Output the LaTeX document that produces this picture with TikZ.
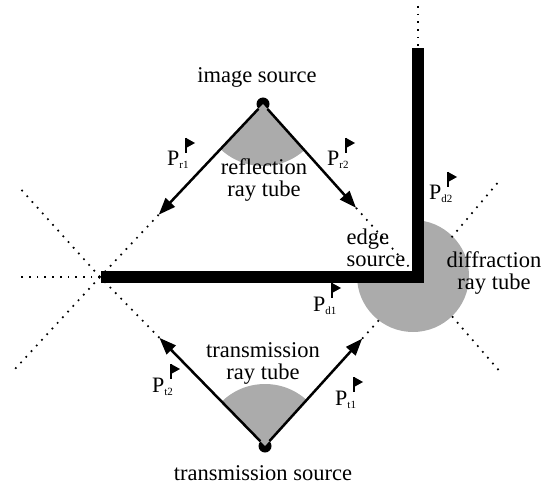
\documentclass[tikz,border=0pt]{standalone}
\usepackage{fontspec}
\setmainfont{Liberation Serif}
\usetikzlibrary{arrows.meta,calc}
\newcommand\psub[1]{P\raisebox{-3pt}{\fontsize{11}{11}\selectfont #1}}
\newcommand\pflag[1]{%
  \fill ($(#1.base west)+(19,-28)$) -- ++(9,5) -- ++(-9,5) -- cycle;
  \draw[line width=1.3pt] ($(#1.base west)+(19,-28)$) -- ++(0,15);}
\begin{document}
\begin{tikzpicture}[x=1pt,y=-1pt,
  wall/.style={line width=11.5pt, line join=miter},
  ray/.style={line width=2.5pt, -{Triangle[length=17pt,width=12.5pt]}},
  dots/.style={line width=1.7pt, dash pattern=on 1.7pt off 6pt},
  src/.style={circle, fill, inner sep=0pt, minimum size=13pt},
  lbl/.style={font=\fontsize{22.5}{22}\selectfont, inner sep=0pt, align=center},
  plbl/.style={font=\fontsize{22}{22}\selectfont, inner sep=0pt, anchor=base west},
  tube/.style={fill=black!33}]
\useasboundingbox (0,0) rectangle (553,486);

% key points
\coordinate (C) at (100,277);
\coordinate (E) at (418,277);
\node[src] (I) at (263,104) {};
\node[src] (T) at (265,446) {};
\coordinate (r1) at ($(I.center)!0.64!(C)$);
\coordinate (r2) at ($(I.center)!0.60!(E)$);
\coordinate (t2) at ($(T.center)!0.64!(C)$);
\coordinate (t1) at ($(T.center)!0.635!(E)$);
\coordinate (ul) at (18,186);
\coordinate (ll) at (15,369);
\coordinate (hl) at (20,277);
\coordinate (ur) at (500,180);
\coordinate (lr) at (502,374);
\coordinate (vt) at (418,6);

% ray tubes
\begin{scope}
  \clip (I.center) -- ($(I.center)!3!(C)$) -- ($(I.center)!3!(E)$) -- cycle;
  \fill[tube] (I.center) circle[radius=62pt];
\end{scope}
\begin{scope}
  \clip (T.center) -- ($(T.center)!3!(C)$) -- ($(T.center)!3!(E)$) -- cycle;
  \fill[tube] (T.center) circle[radius=62pt];
\end{scope}
\begin{scope}
  \clip (E) -- ++(0,-100) -- ++(150,0) -- ++(0,200) -- ++(-268,0) -- ++(0,-100) -- cycle;
  \fill[tube] (413,276) circle[radius=56pt];
\end{scope}

% dotted rays
\draw[dots] (C) -- (ul);
\draw[dots] (C) -- (ll);
\draw[dots] (C) -- (hl);
\draw[dots] (r1) -- (C);
\draw[dots] (t2) -- (C);
\draw[dots] (r2) -- (E);
\draw[dots] (t1) -- ($(E)!54pt!(t1)$);
\draw[dots] ($(E)!52pt!(ur)$) -- (ur);
\draw[dots] ($(E)!52pt!(lr)$) -- (lr);
\draw[dots] (vt) -- (418,48);

% walls
\draw[wall] (101,277) -- (E) -- (418,48);

% ray arrows
\draw[ray] (I) -- (r1);
\draw[ray] (I) -- (r2);
\draw[ray] (T) -- (t2);
\draw[ray] (T) -- (t1);

% texts
\node[lbl] (isrc) at (257,77) {image source};
\node[lbl] (rtube) at (264,180) {reflection\\ray tube};
\node[lbl] (ttube) at (263,363) {transmission\\ray tube};
\node[lbl] (tsrc) at (263,473) {transmission source};
\node[lbl, align=left] (esrc) at (376,248) {edge\\source};
\node[lbl] (dtube) at (494,273) {diffraction\\ray tube};

% P labels with flags
\node[plbl] (pr1) at (167,166) {\psub{r1}};
\node[plbl] (pr2) at (327,166) {\psub{r2}};
\node[plbl] (pd2) at (429,200) {\psub{d2}};
\node[plbl] (pd1) at (313,311) {\psub{d1}};
\node[plbl] (pt2) at (152,392) {\psub{t2}};
\node[plbl] (pt1) at (335,405) {\psub{t1}};
\pflag{pr1}
\pflag{pr2}
\pflag{pd2}
\pflag{pd1}
\pflag{pt2}
\pflag{pt1}
\end{tikzpicture}
\end{document}
